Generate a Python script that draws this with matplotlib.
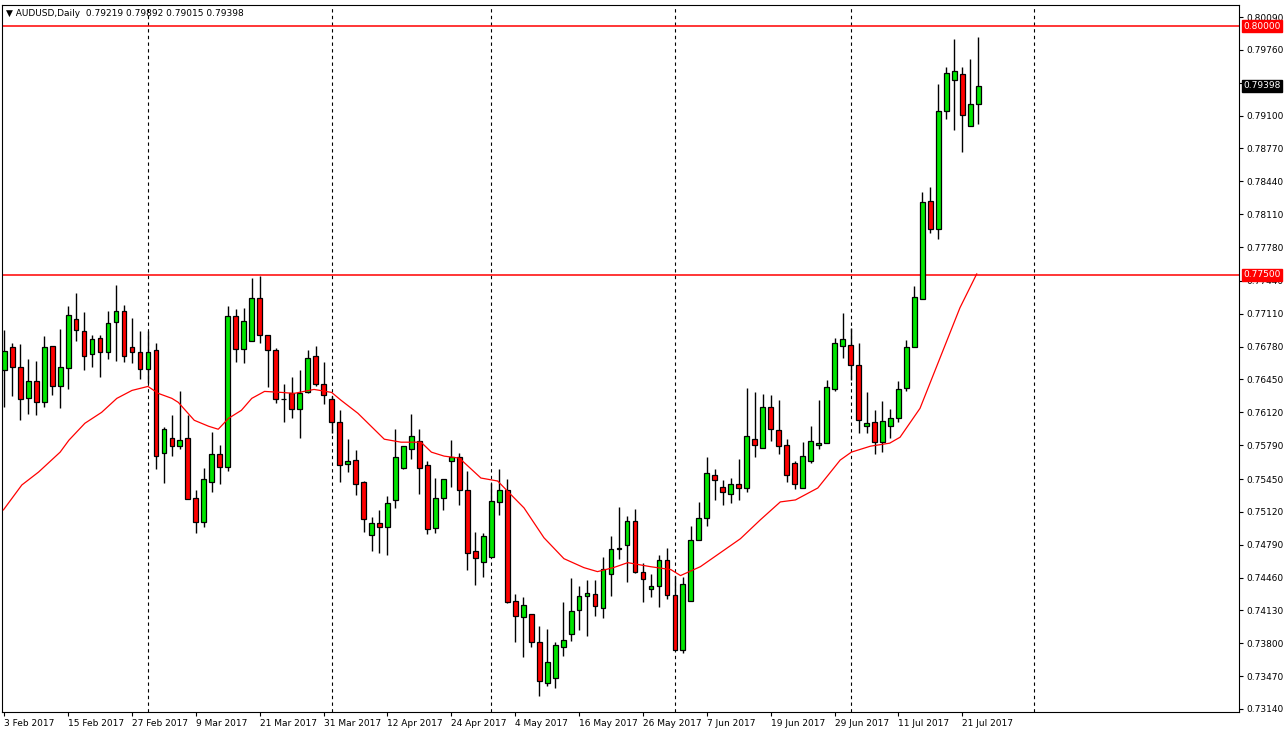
import matplotlib
matplotlib.use("Agg")
import matplotlib.pyplot as plt
from matplotlib.patches import Rectangle

opens = [.7655,.7678,.7658,.7626,.7643,.7622,.7679,.7638,.7657,.7706,.7694,.7671,.7687,.7673,.7703,.7714,.7678,.7673,.7656,.7675,
 .7571,.7586,.7578,.7586,.7526,.7502,.7542,.7570,.7557,.7709,.7676,.7684,.7727,.7690,.7675,.7625,.7631,.7615,.7632,.7669,
 .7640,.7625,.7602,.7560,.7564,.7542,.7489,.7501,.7497,.7524,.7556,.7575,.7583,.7559,.7496,.7526,.7563,.7567,.7534,.7473,
 .7462,.7467,.7522,.7534,.7422,.7406,.7409,.7381,.7340,.7345,.7376,.7389,.7413,.7427,.7430,.7415,.7450,.7475,.7479,.7503,
 .7452,.7435,.7438,.7464,.7429,.7373,.7422,.7484,.7506,.7549,.7537,.7530,.7540,.7536,.7585,.7576,.7617,.7594,.7579,.7561,
 .7536,.7563,.7579,.7581,.7635,.7679,.7680,.7660,.7598,.7602,.7582,.7598,.7606,.7636,.7678,.7726,.7824,.7796,.7915,.7946,
 .7952,.7900,.79219]
highs = [.7695,.7682,.7681,.7666,.7664,.7689,.7679,.7696,.7719,.7732,.7713,.7690,.7690,.7714,.7740,.7720,.7707,.7694,.7694,.7682,
 .7597,.7609,.7633,.7609,.7534,.7556,.7592,.7579,.7719,.7716,.7717,.7747,.7749,.7690,.7677,.7640,.7647,.7655,.7675,.7679,
 .7663,.7628,.7614,.7585,.7574,.7543,.7507,.7514,.7528,.7595,.7578,.7610,.7595,.7563,.7546,.7545,.7584,.7571,.7553,.7492,
 .7491,.7541,.7555,.7545,.7430,.7426,.7409,.7397,.7394,.7381,.7421,.7446,.7438,.7444,.7444,.7467,.7488,.7517,.7508,.7515,
 .7461,.7450,.7469,.7476,.7448,.7447,.7498,.7522,.7567,.7555,.7544,.7546,.7565,.7636,.7632,.7630,.7629,.7624,.7585,.7563,
 .7582,.7598,.7624,.7644,.7687,.7712,.7697,.7682,.7632,.7614,.7623,.7615,.7643,.7685,.7739,.7833,.7838,.7942,.7959,.7987,
 .7959,.7967,.79892]
lows = [.7617,.7628,.7604,.7610,.7609,.7617,.7629,.7616,.7635,.7684,.7655,.7658,.7647,.7666,.7664,.7663,.7662,.7645,.7641,.7555,
 .7541,.7568,.7575,.7525,.7491,.7497,.7532,.7540,.7553,.7663,.7662,.7684,.7682,.7637,.7621,.7602,.7606,.7586,.7631,.7638,
 .7620,.7591,.7542,.7552,.7529,.7492,.7473,.7471,.7469,.7516,.7555,.7565,.7530,.7490,.7491,.7514,.7537,.7519,.7454,.7439,
 .7447,.7467,.7509,.7420,.7381,.7366,.7376,.7327,.7337,.7335,.7367,.7382,.7393,.7387,.7407,.7405,.7428,.7465,.7442,.7451,
 .7421,.7426,.7416,.7424,.7373,.7370,.7422,.7484,.7498,.7524,.7519,.7521,.7524,.7532,.7567,.7576,.7583,.7570,.7542,.7535,
 .7536,.7561,.7575,.7581,.7633,.7667,.7644,.7591,.7591,.7570,.7572,.7586,.7602,.7633,.7678,.7726,.7792,.7786,.7907,.7896,
 .7873,.7900,.79015]
closes = [.7674,.7658,.7625,.7643,.7622,.7678,.7638,.7658,.7710,.7695,.7669,.7686,.7673,.7702,.7714,.7669,.7673,.7656,.7673,.7568,
 .7595,.7578,.7584,.7525,.7502,.7545,.7570,.7557,.7709,.7676,.7704,.7727,.7690,.7675,.7625,.7625,.7615,.7631,.7667,.7640,
 .7629,.7602,.7559,.7563,.7540,.7505,.7501,.7497,.7521,.7567,.7578,.7588,.7556,.7495,.7526,.7545,.7567,.7534,.7471,.7466,
 .7488,.7523,.7534,.7421,.7407,.7418,.7381,.7342,.7361,.7378,.7383,.7412,.7427,.7431,.7417,.7455,.7475,.7475,.7503,.7452,
 .7445,.7438,.7464,.7429,.7373,.7440,.7484,.7506,.7551,.7544,.7532,.7540,.7536,.7588,.7579,.7617,.7595,.7578,.7549,.7540,
 .7568,.7583,.7581,.7637,.7682,.7686,.7660,.7604,.7601,.7582,.7603,.7606,.7635,.7678,.7728,.7823,.7796,.7915,.7953,.7955,
 .7911,.7922,.79398]

ma_idx = [-0.1,2.2,4.3,7.0,8.1,10.1,12.2,14.1,16.0,18.0,19.3,21.0,21.8,23.8,25.6,26.8,28.1,29.7,31.0,32.6,34.7,36.3,38.8,41.0,
 42.2,44.3,47.6,49.7,52.2,53.5,55.1,57.0,59.7,61.8,63.5,65.1,67.6,70.1,72.6,74.3,76.3,78.1,80.9,83.5,84.7,87.2,92.2,94.7,
 97.2,99.1,101.9,104.7,106.1,108.5,110.9,112.2,114.7,119.7,121.8]
ma_val = [.7514,.7539,.7552,.7572,.7584,.7601,.7612,.7626,.7634,.7638,.7631,.7626,.7622,.7604,.7598,.7595,.7606,.7614,.7626,
 .7633,.7632,.7631,.7635,.7632,.7624,.7611,.7585,.7582,.7582,.7572,.7568,.7566,.7546,.7543,.7529,.7516,.7486,.7465,.7456,
 .7452,.7456,.7461,.7457,.7454,.7448,.7457,.7485,.7504,.7522,.7524,.7536,.7564,.7572,.7578,.7581,.7587,.7616,.7717,.7751]

date_labels = ["3 Feb 2017","15 Feb 2017","27 Feb 2017","9 Mar 2017","21 Mar 2017","31 Mar 2017","12 Apr 2017",
 "24 Apr 2017","4 May 2017","16 May 2017","26 May 2017","7 Jun 2017","19 Jun 2017","29 Jun 2017","11 Jul 2017","21 Jul 2017"]
month_starts = [18,41,61,84,106,129]
price_ticks = [0.80090,0.79760,0.79430,0.79100,0.78770,0.78440,0.78110,0.77780,0.77440,0.77110,0.76780,0.76450,
 0.76120,0.75790,0.75450,0.75120,0.74790,0.74460,0.74130,0.73800,0.73470,0.73140]
hidden_ticks = [0.79430]
levels = [0.8000, 0.7750]

fig = plt.figure(figsize=(12.85,7.34), dpi=100)
ax = fig.add_axes([0.0015, 0.030, 0.963, 0.963])
ax.set_xlim(-0.29, 154.7)
ax.set_ylim(0.7311, 0.8021)

for i,(o,h,l,c) in enumerate(zip(opens,highs,lows,closes)):
    col = '#00e600' if c >= o else '#ff0000'
    ax.vlines(i, l, h, color='black', lw=1, zorder=2)
    ax.add_patch(Rectangle((i-0.3, min(o,c)), 0.6, max(abs(c-o),0.00005),
                 facecolor=col, edgecolor='black', lw=0.9, zorder=3))

ax.plot(ma_idx, ma_val, color='#ff0000', lw=0.9, zorder=4)
for m in month_starts:
    ax.axvline(m, color='black', ls=(0,(3,3)), lw=0.8, zorder=1)
for lv in levels:
    ax.axhline(lv, color='#ff0000', lw=1.1, zorder=1)

ax.yaxis.tick_right()
ax.set_yticks(price_ticks)
ax.set_yticklabels(["" if t in hidden_ticks else f"{t:.5f}" for t in price_ticks], fontsize=6.5)
ax.set_xticks(range(0,121,8))
ax.set_xticklabels(date_labels, fontsize=6.5, ha='left')
ax.tick_params(axis='x', length=3, pad=2)
ax.tick_params(axis='y', length=3, pad=2)
for s in ax.spines.values():
    s.set_linewidth(0.8)

def tag(v, fc):
    ax.text(1.003, v, f"{v:.5f}", transform=ax.get_yaxis_transform(), fontsize=6.5, color='white',
            va='center', ha='left', bbox=dict(boxstyle='square,pad=0.15', fc=fc, ec=fc), zorder=10, clip_on=False)
tag(levels[0], '#ff0000')
tag(levels[1], '#ff0000')
tag(closes[-1], 'black')

ax.text(0.003, 0.995, f"\u25BC AUDUSD,Daily  {opens[-1]:.5f} {highs[-1]:.5f} {lows[-1]:.5f} {closes[-1]:.5f}",
        transform=ax.transAxes, fontsize=6.5, va='top', ha='left')
fig.savefig("out.png", dpi=100)
